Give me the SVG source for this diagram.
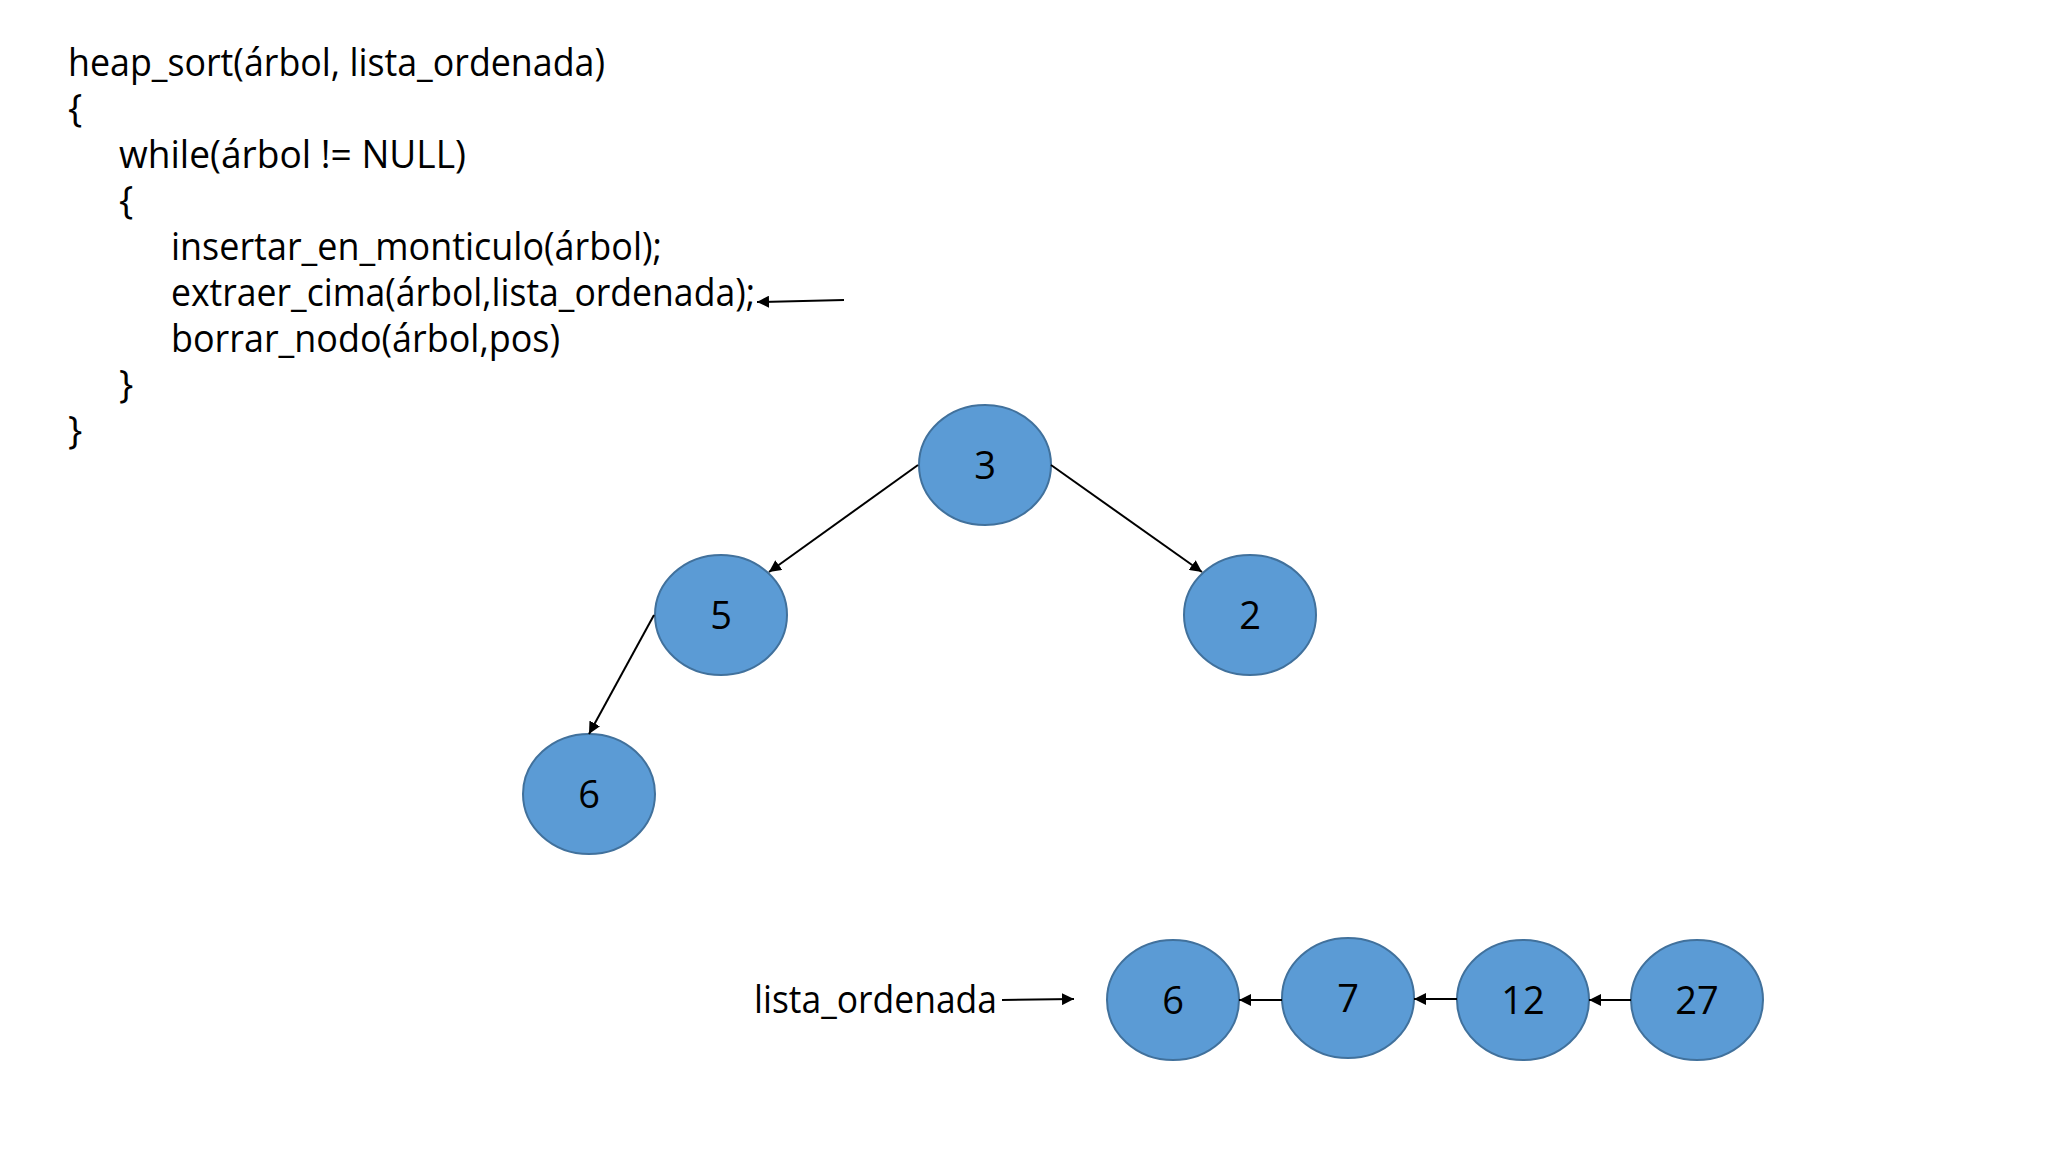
<svg xmlns="http://www.w3.org/2000/svg" width="2048" height="1152" viewBox="0 0 2048 1152">
<style>
.t{font-family:"Open Sans","Noto Sans","Liberation Sans",sans-serif;font-size:38px;fill:#000}
.n ellipse{fill:#5B9BD5;stroke:#41719C;stroke-width:2}
.n text{font-family:"Open Sans","Noto Sans","Liberation Sans",sans-serif;font-size:38px;fill:#000;text-anchor:middle}
.c line{stroke:#000;stroke-width:2;marker-end:url(#ah)}
</style>
<defs>
<marker id="ah" viewBox="0 0 10 10" refX="10" refY="5" markerWidth="12" markerHeight="12" markerUnits="userSpaceOnUse" orient="auto">
<path d="M0,0 L10,5 L0,10 z" fill="#000"/>
</marker>
</defs>
<rect width="2048" height="1152" fill="#fff"/>
<g id="code">
<text class="t" x="68" y="76" textLength="537" lengthAdjust="spacingAndGlyphs">heap_sort(árbol, lista_ordenada)</text>
<text class="t" x="68" y="122">{</text>
<text class="t" x="119" y="168" textLength="347" lengthAdjust="spacingAndGlyphs">while(árbol != NULL)</text>
<text class="t" x="119" y="214">{</text>
<text class="t" x="171" y="260" textLength="491" lengthAdjust="spacingAndGlyphs">insertar_en_monticulo(árbol);</text>
<text class="t" x="171" y="306" textLength="584" lengthAdjust="spacingAndGlyphs">extraer_cima(árbol,lista_ordenada);</text>
<text class="t" x="171" y="352" textLength="389" lengthAdjust="spacingAndGlyphs">borrar_nodo(árbol,pos)</text>
<text class="t" x="119" y="398">}</text>
<text class="t" x="68" y="444">}</text>
</g>
<g id="label-lista">
<text class="t" x="754" y="1013" textLength="243" lengthAdjust="spacingAndGlyphs">lista_ordenada</text>
</g>
<g id="tree3" class="n"><ellipse cx="985" cy="465" rx="66" ry="60"/><text x="985" y="479">3</text></g>
<g id="tree5" class="n"><ellipse cx="721" cy="615" rx="66" ry="60"/><text x="721" y="629">5</text></g>
<g id="tree2" class="n"><ellipse cx="1250" cy="615" rx="66" ry="60"/><text x="1250" y="629">2</text></g>
<g id="tree6" class="n"><ellipse cx="589" cy="794" rx="66" ry="60"/><text x="589" y="808">6</text></g>
<g id="list6" class="n"><ellipse cx="1173" cy="1000" rx="66" ry="60"/><text x="1173" y="1014">6</text></g>
<g id="list7" class="n"><ellipse cx="1348" cy="998" rx="66" ry="60"/><text x="1348" y="1012">7</text></g>
<g id="list12" class="n"><ellipse cx="1523" cy="1000" rx="66" ry="60"/><text x="1523" y="1014">12</text></g>
<g id="list27" class="n"><ellipse cx="1697" cy="1000" rx="66" ry="60"/><text x="1697" y="1014">27</text></g>
<g id="connectors" class="c">
<line x1="844" y1="300" x2="757" y2="302"/>
<line x1="918" y1="465" x2="769" y2="572"/>
<line x1="1051" y1="465" x2="1202" y2="572"/>
<line x1="654" y1="615" x2="589" y2="734"/>
<line x1="1002" y1="1000" x2="1074" y2="999"/>
<line x1="1282" y1="1000" x2="1239" y2="1000"/>
<line x1="1457" y1="999" x2="1414" y2="999"/>
<line x1="1631" y1="1000" x2="1589" y2="1000"/>
</g>
</svg>
